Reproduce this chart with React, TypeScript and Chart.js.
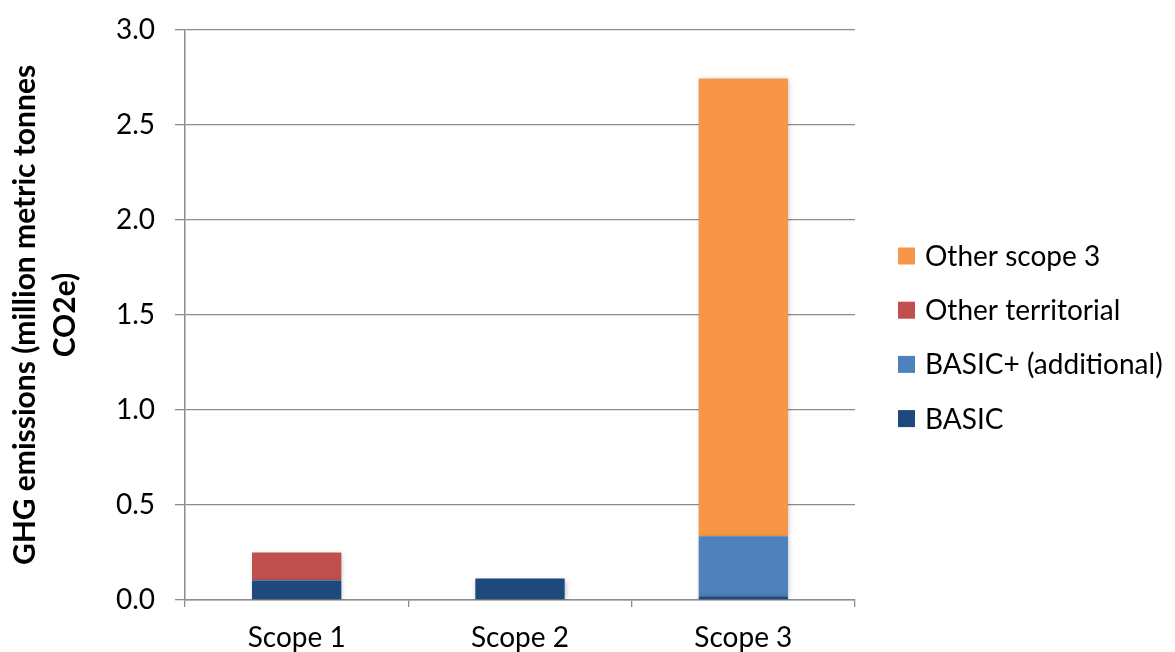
import { useEffect, useRef } from 'react';
import { Chart, registerables } from 'chart.js';

Chart.register(...registerables);

const categories = ['Scope 1', 'Scope 2', 'Scope 3'];
const basic = [0.1, 0.113, 0.02];
const basicPlus = [0.005, 0, 0.315];
const otherTerritorial = [0.145, 0, 0];
const otherScope3 = [0, 0, 2.41];
const seriesLabels = ['BASIC', 'BASIC+ (additional)', 'Other territorial', 'Other scope 3'];
const seriesColors = ['#1F497D', '#4F81BD', '#C0504D', '#F79646'];
const yMin = 0;
const yMax = 3;
const yStep = 0.5;
const yTitle = ['GHG emissions (million metric tonnes', 'CO2e)'];

const FONT = 'Lato, "Noto Sans", sans-serif';
const GRID = '#8c8c8c';

const shadowPlugin = {
  id: 'barShadow',
  beforeDatasetsDraw(chart: any) {
    const ctx = chart.ctx;
    ctx.save();
    ctx.shadowColor = 'rgba(0,0,0,0.25)';
    ctx.shadowBlur = 5;
    ctx.shadowOffsetX = 1;
    ctx.shadowOffsetY = 1;
  },
  afterDatasetsDraw(chart: any) {
    chart.ctx.restore();
  },
};

const legendPlugin = {
  id: 'sideLegend',
  afterDraw(chart: any) {
    const ctx = chart.ctx;
    const ds = chart.data.datasets.slice().reverse();
    ctx.save();
    ctx.font = `28px ${FONT}`;
    ctx.textBaseline = 'middle';
    ctx.textAlign = 'left';
    ds.forEach((d: any, i: number) => {
      const y = 256 + i * 54.2;
      ctx.fillStyle = d.backgroundColor;
      ctx.fillRect(898, y - 8.5, 17, 17);
      ctx.fillStyle = '#000';
      ctx.fillText(d.label, 925, y + 1);
    });
    ctx.restore();
  },
};

export default function App() {
  const ref = useRef<HTMLCanvasElement | null>(null);
  useEffect(() => {
    document.body.style.margin = '0';
    const values = [basic, basicPlus, otherTerritorial, otherScope3];
    const chart = new Chart(ref.current as HTMLCanvasElement, {
      type: 'bar',
      data: {
        labels: categories,
        datasets: values.map((v, i) => ({
          label: seriesLabels[i],
          data: v,
          backgroundColor: seriesColors[i],
          borderWidth: 0,
          barPercentage: 0.4,
          categoryPercentage: 1,
        })),
      },
      options: {
        animation: false,
        responsive: true,
        maintainAspectRatio: false,
        layout: { padding: { top: 30, right: 320, left: 0, bottom: 0 } },
        plugins: { legend: { display: false }, tooltip: { enabled: false } },
        scales: {
          x: {
            stacked: true,
            afterFit: (s: any) => { s.height = 52; },
            grid: { offset: true, drawOnChartArea: false, drawTicks: true, tickLength: 7, color: GRID, lineWidth: 1.3 },
            border: { display: true, color: GRID, width: 1.5 },
            ticks: { color: '#000', font: { family: FONT, size: 28 }, padding: 14 },
          },
          y: {
            stacked: true,
            min: yMin,
            max: yMax,
            afterFit: (s: any) => { s.width = 185; s.paddingTop = 0; s.paddingBottom = 0; },
            ticks: {
              stepSize: yStep,
              color: '#000',
              font: { family: FONT, size: 28 },
              padding: 20,
              callback: (v: any) => Number(v).toFixed(1),
            },
            grid: { color: GRID, lineWidth: 1.3, tickLength: 10 },
            border: { display: true, color: GRID, width: 1.5 },
            title: {
              display: true,
              text: yTitle,
              color: '#000',
              font: { family: FONT, size: 30, weight: 'bold', lineHeight: 1.35 },
              padding: { top: 5, bottom: 0 },
            },
          },
        },
      } as any,
      plugins: [shadowPlugin, legendPlugin],
    });
    return () => chart.destroy();
  }, []);
  return (
    <div style={{ width: 1175, height: 652, position: 'relative' }}>
      <canvas ref={ref} />
    </div>
  );
}
